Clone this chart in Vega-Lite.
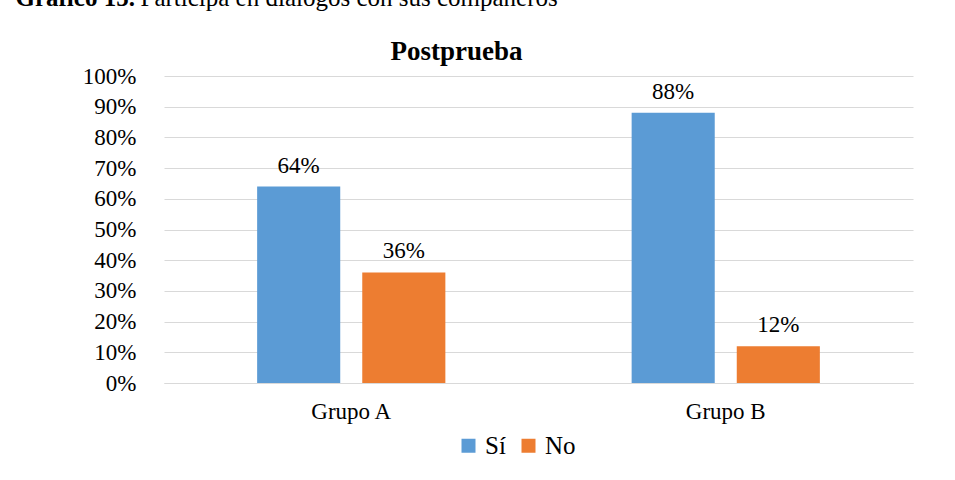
{
  "$schema": "https://vega.github.io/schema/vega-lite/v6.json",
  "autosize": "none",
  "width": 749,
  "height": 307,
  "padding": {"left": 164, "top": 76, "right": 42, "bottom": 97},
  "background": "white",
  "config": {
    "font": "Liberation Serif",
    "view": {"stroke": null}
  },
  "data": {
    "values": [
      {"Grupo": "Grupo A", "Respuesta": "Sí", "Valor": 0.64},
      {"Grupo": "Grupo A", "Respuesta": "No", "Valor": 0.36},
      {"Grupo": "Grupo B", "Respuesta": "Sí", "Valor": 0.88},
      {"Grupo": "Grupo B", "Respuesta": "No", "Valor": 0.12}
    ]
  },
  "encoding": {
    "x": {
      "field": "Grupo",
      "type": "nominal",
      "scale": {"paddingInner": 0, "paddingOuter": 0},
      "axis": {
        "title": "Gráfico 15.",
        "titleFont": "Liberation Serif",
        "titleFontSize": 25,
        "titleFontWeight": "bold",
        "titleColor": "#000000",
        "titleAlign": "left",
        "titleBaseline": "alphabetic",
        "titleAnchor": "start",
        "titleX": -149,
        "titleY": -378,
        "labelAngle": 0,
        "labelFont": "Liberation Serif",
        "labelFontSize": 23,
        "labelColor": "#000000",
        "labelBaseline": "alphabetic",
        "labelPadding": 35,
        "ticks": false,
        "domain": true,
        "domainColor": "#d9d9d9",
        "domainWidth": 1,
        "grid": false
      }
    },
    "xOffset": {
      "field": "Respuesta",
      "type": "nominal",
      "sort": ["Sí", "No"],
      "scale": {"paddingInner": 0.2095, "paddingOuter": 0.886}
    }
  },
  "layer": [
    {
      "mark": {"type": "bar"},
      "encoding": {
        "y": {
          "field": "Valor",
          "type": "quantitative",
          "scale": {"domain": [0, 1]},
          "axis": {
            "orient": "left",
            "title": "Participa en diálogos con sus compañeros",
            "titleFont": "Liberation Serif",
            "titleFontSize": 25,
            "titleFontWeight": "normal",
            "titleColor": "#000000",
            "titleAngle": 0,
            "titleAlign": "left",
            "titleBaseline": "alphabetic",
            "titleX": -24,
            "titleY": -71,
            "values": [0, 0.1, 0.2, 0.3, 0.4, 0.5, 0.6, 0.7, 0.8, 0.9, 1],
            "format": ".0%",
            "labelFont": "Liberation Serif",
            "labelFontSize": 23,
            "labelColor": "#000000",
            "labelPadding": 28,
            "ticks": false,
            "domain": false,
            "grid": true,
            "gridColor": "#d9d9d9",
            "gridWidth": 1
          }
        },
        "color": {
          "field": "Respuesta",
          "type": "nominal",
          "sort": ["Sí", "No"],
          "scale": {"domain": ["Sí", "No"], "range": ["#5B9BD5", "#ED7D31"]},
          "legend": {
            "title": null,
            "orient": "none",
            "direction": "horizontal",
            "legendX": 292,
            "legendY": 357,
            "symbolType": "square",
            "symbolSize": 196,
            "symbolStrokeWidth": 0,
            "labelFont": "Liberation Serif",
            "labelFontSize": 25,
            "labelColor": "#000000",
            "labelOffset": 4,
            "columnPadding": 10
          }
        }
      }
    },
    {
      "mark": {
        "type": "text",
        "font": "Liberation Serif",
        "fontSize": 23,
        "color": "#000000",
        "baseline": "alphabetic",
        "dy": -14
      },
      "encoding": {
        "y": {
          "field": "Valor",
          "type": "quantitative",
          "scale": {"domain": [0, 1]},
          "axis": {
            "orient": "right",
            "title": "Postprueba",
            "titleFont": "Liberation Serif",
            "titleFontSize": 27,
            "titleFontWeight": "bold",
            "titleColor": "#000000",
            "titleAngle": 0,
            "titleAlign": "center",
            "titleBaseline": "alphabetic",
            "titleX": -457,
            "titleY": -17,
            "labels": false,
            "ticks": false,
            "domain": false,
            "grid": false
          }
        },
        "text": {"field": "Valor", "type": "quantitative", "format": ".0%"}
      }
    }
  ],
  "resolve": {"scale": {"y": "independent"}}
}
